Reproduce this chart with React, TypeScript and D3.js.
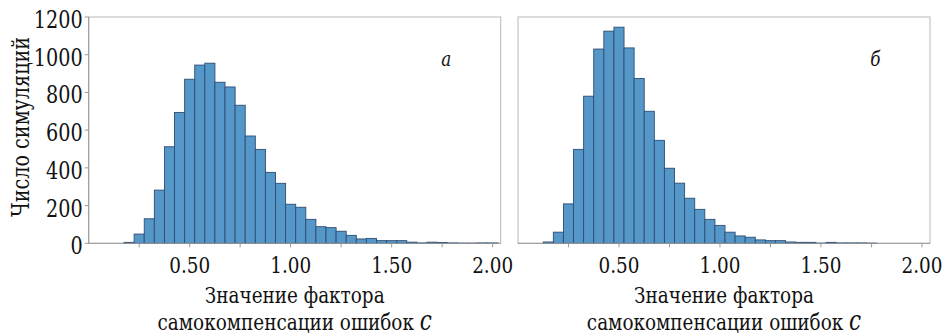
import React from 'react';
import * as d3 from 'd3';

const leftCenters = [0.20, 0.25, 0.30, 0.35, 0.40, 0.45, 0.50, 0.55, 0.60, 0.65, 0.70, 0.75, 0.80, 0.85, 0.90, 0.95, 1.00, 1.05, 1.10, 1.15, 1.20, 1.25, 1.30, 1.35, 1.40, 1.45, 1.50, 1.55, 1.60, 1.65, 1.70, 1.75, 1.80, 1.85, 1.90, 1.95, 2.00];
const leftCounts = [5, 49, 130, 282, 512, 694, 870, 945, 955, 854, 829, 732, 569, 498, 376, 318, 207, 191, 127, 88, 83, 64, 42, 23, 26, 14, 14, 14, 6, 2, 6, 4, 2, 1, 1, 2, 2];

const rightCenters = [0.15, 0.20, 0.25, 0.30, 0.35, 0.40, 0.45, 0.50, 0.55, 0.60, 0.65, 0.70, 0.75, 0.80, 0.85, 0.90, 0.95, 1.00, 1.05, 1.10, 1.15, 1.20, 1.25, 1.30, 1.35, 1.40, 1.45, 1.50, 1.55, 1.60, 1.65, 1.70, 1.75];
const rightCounts = [7, 59, 209, 498, 780, 1030, 1125, 1146, 1036, 874, 700, 546, 398, 319, 239, 180, 127, 95, 59, 39, 32, 18, 14, 14, 7, 5, 5, 1, 5, 2, 2, 2, 1];

const yTicks = [0, 200, 400, 600, 800, 1000, 1200];
const xTickMarks = [0.25, 0.5, 0.75, 1.0, 1.25, 1.5, 1.75, 2.0];
const xTickLabels = [0.5, 1.0, 1.5, 2.0];
const panelLetters = ['a', 'б'];
const yTitle = 'Число симуляций';
const xTitle1 = 'Значение фактора';
const xTitle2 = 'самокомпенсации ошибок ';
const xTitleVar = 'c';

const BIN = 0.05;
const FONT = "'DejaVu Serif', serif";
// DejaVu Serif is wider than Times; condense horizontally
const SX = 0.8;

function T({ x, y, anchor = 'middle', size, italic = false, children }: any) {
  return (
    <g transform={`translate(${x},${y}) scale(${SX},1)`}>
      <text x={0} y={0} textAnchor={anchor} style={{ fontFamily: FONT, fontSize: size, fontStyle: italic ? 'italic' : 'normal', fill: '#111' }}>
        {children}
      </text>
    </g>
  );
}

function Panel({ x0, x1, centers, counts, letter, showY }: any) {
  const yTop = 17;
  const yBot = 243.3;
  const x = d3.scaleLinear().domain([0, 2.04]).range([x0, x1]);
  const y = d3.scaleLinear().domain([0, 1200]).range([yBot, yTop]);
  const cx = (x0 + x1) / 2;
  return (
    <g>
      <rect x={x0} y={yTop} width={x1 - x0} height={yBot - yTop} fill="white" stroke="#b8b8b8" strokeWidth={1} />
      {centers.map((c: number, i: number) => (
        <rect
          key={i}
          x={x(c - BIN / 2)}
          y={y(counts[i])}
          width={x(c + BIN / 2) - x(c - BIN / 2)}
          height={yBot - y(counts[i])}
          fill="#5597c9"
          stroke="#2c4e72"
          strokeWidth={0.9}
        />
      ))}
      <line x1={x0} x2={x1} y1={yBot} y2={yBot} stroke="#9a9a9a" strokeWidth={1} />
      {xTickMarks.map((t) => (
        <line key={t} x1={x(t)} x2={x(t)} y1={yBot} y2={yBot + 4} stroke="#9a9a9a" strokeWidth={1} />
      ))}
      {xTickLabels.map((t) => (
        <T key={t} x={x(t)} y={273} size={23}>{d3.format('.2f')(t)}</T>
      ))}
      {showY && (
        <g>
          <line x1={x0} x2={x0} y1={yTop} y2={yBot} stroke="#9a9a9a" strokeWidth={1} />
          {yTicks.map((t) => (
            <g key={t}>
              <line x1={x0 - 4} x2={x0} y1={y(t)} y2={y(t)} stroke="#9a9a9a" strokeWidth={1} />
              <T x={x0 - 6} y={y(t) + 11} anchor="end" size={24}>{t}</T>
            </g>
          ))}
        </g>
      )}
      <T x={x(1.77)} y={66} size={21} italic>{letter}</T>
      <T x={cx} y={303} size={23}>{xTitle1}</T>
      <g transform={`translate(${cx},330) scale(${SX},1)`}>
        <text x={0} y={0} textAnchor="middle" style={{ fontFamily: FONT, fontSize: 23, fill: '#111' }}>
          {xTitle2}
          <tspan style={{ fontStyle: 'italic', fontSize: 27 }}>{xTitleVar}</tspan>
        </text>
      </g>
    </g>
  );
}

export default function App() {
  return (
    <svg width={942} height={336} style={{ position: 'absolute', left: 0, top: 0, background: 'white' }}>
      <rect x={0} y={0} width={942} height={336} fill="white" />
      <g transform="translate(29,127) rotate(-90) scale(0.8,1)">
        <text x={0} y={0} textAnchor="middle" style={{ fontFamily: FONT, fontSize: 24, fill: '#111' }}>
          {yTitle}
        </text>
      </g>
      <Panel x0={88.7} x1={500.7} centers={leftCenters} counts={leftCounts} letter={panelLetters[0]} showY />
      <Panel x0={518} x1={930} centers={rightCenters} counts={rightCounts} letter={panelLetters[1]} showY={false} />
    </svg>
  );
}
